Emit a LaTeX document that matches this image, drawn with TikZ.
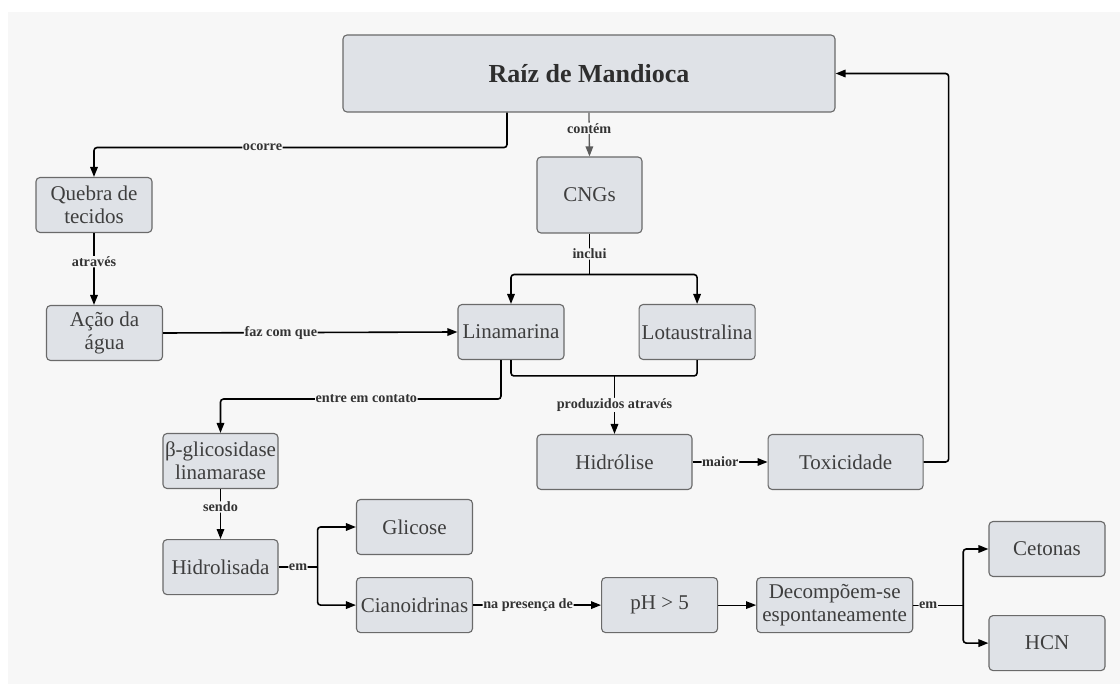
\documentclass[tikz,border=0pt]{standalone}
\usepackage{fontspec}
\setmainfont{Liberation Serif}
\usetikzlibrary{arrows.meta,positioning}

\definecolor{panel}{HTML}{F7F7F7}
\definecolor{boxfill}{HTML}{DFE2E7}
\definecolor{boxline}{HTML}{6A6A6A}
\definecolor{boxtext}{HTML}{3E3E3E}
\definecolor{softline}{HTML}{5C5C5C}

\begin{document}
\begin{tikzpicture}[
  x=1pt, y=-1pt,
  box/.style={rectangle, rounded corners=4pt, draw=boxline, line width=1.1pt, fill=boxfill, text=boxtext, align=center, minimum width=116pt, minimum height=55pt, inner sep=2pt, font=\fontsize{21}{23}\selectfont},
  lbl/.style={fill=panel, text=black!80, inner sep=0.6pt, font=\bfseries\fontsize{14.2}{15}\selectfont},
  arrow/.style={-{Triangle[length=10pt,width=7.5pt]}, line width=1.6pt, rounded corners=3pt},
  link/.style={line width=1.6pt, rounded corners=3pt},
  thin line/.style={line width=1.2pt}
]
\useasboundingbox (0,0) rectangle (1120,684);
\fill[white] (0,0) rectangle (1120,684);
\fill[panel] (8,12) rectangle (1120,684);

% nodes
\node[box, minimum width=492pt, minimum height=77pt, text=black!82, font=\bfseries\fontsize{26}{28}\selectfont] (raiz) at (589,73.5) {Raíz de Mandioca};
\node[box, minimum width=105pt, minimum height=76pt] (cngs) at (589.5,195) {CNGs};
\node[box] (quebra) at (94,205) {Quebra de\\tecidos};
\node[box] (acao) at (104.5,333) {Ação da\\água};
\node[box, minimum width=106pt] (lina) at (511,332) {Linamarina};
\node[box, right=74pt of lina] (lota) {Lotaustralina};
\node[box, minimum width=115pt] (beta) at (220.5,461) {β-glicosidase\\linamarase};
\node[box, minimum width=155pt] (hidrolise) at (614.5,462) {Hidrólise};
\node[box, minimum width=155pt, right=75pt of hidrolise] (toxi) {Toxicidade};
\node[box, minimum width=115pt, below=50pt of beta] (hidrolisada) {Hidrolisada};
\node[box] (glicose) at (414.5,527) {Glicose};
\node[box, below=22pt of glicose] (ciano) {Cianoidrinas};
\node[box, right=128pt of ciano] (ph) {pH > 5};
\node[box, minimum width=156pt, right=38pt of ph] (decomp) {Decompõem-se\\espontaneamente};
\node[box] (cetonas) at (1047,549) {Cetonas};
\node[box, below=38pt of cetonas] (hcn) {HCN};

% connectors
\draw[arrow] ([xshift=-82pt]raiz.south) -- ++(0,35) -| node[lbl, pos=0.296]{ocorre} (quebra.north);
\draw[arrow, draw=softline, line width=1.3pt] (raiz.south) -- node[lbl, pos=0.36]{contém} (cngs.north);
\draw[arrow] (quebra.south) -- node[lbl, pos=0.4]{através} (quebra.south |- acao.north);

\draw[link] (cngs.south) -- node[lbl]{inclui} ++(0,41) coordinate (fork1);
\draw[arrow] (fork1) -| (lina.north);
\draw[arrow] (fork1) -| (lota.north);

\draw[arrow] (acao.east) -- node[lbl, pos=0.4]{faz com que} (lina.west);
\draw[arrow] ([xshift=-10pt]lina.south) -- ++(0,39) -| node[lbl, pos=0.24]{entre em contato} (beta.north);

\coordinate (fork2) at ([yshift=58pt]hidrolise.north);
\draw[link] (lina.south) |- (fork2) -| (lota.south);
\draw[arrow] (fork2) -- node[lbl]{produzidos através} (hidrolise.north);

\draw[arrow] (hidrolise.east) -- node[lbl, pos=0.37]{maior} (toxi.west);
\draw[arrow] (toxi.east) -- ++(25,0) |- (raiz.east);

\draw[arrow] (beta.south) -- node[lbl, pos=0.36]{sendo} (hidrolisada.north);
\draw[link] (hidrolisada.east) -- node[lbl]{em} ++(39,0) coordinate (fork3);
\draw[arrow] (fork3) |- (glicose.west);
\draw[arrow] (fork3) |- (ciano.west);

\draw[arrow] (ciano.east) -- node[lbl, pos=0.43]{na presença de} (ph.west);
\draw[arrow, thin line] (ph.east) -- (decomp.west);
\draw[link, thin line] (decomp.east) -- node[lbl, pos=0.3]{em} ++(50,0) coordinate (fork4);
\draw[arrow] (fork4) |- (cetonas.west);
\draw[arrow] (fork4) |- (hcn.west);
\end{tikzpicture}
\end{document}
